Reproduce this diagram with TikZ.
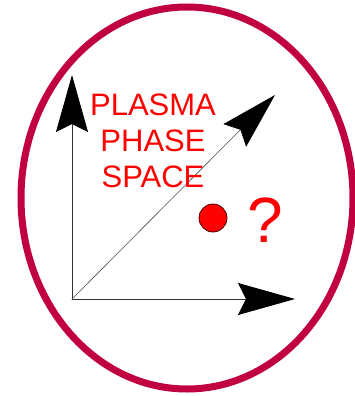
\documentclass[tikz,border=0pt]{standalone}
\usepackage{fontspec}
\setmainfont{Liberation Sans}
\usetikzlibrary{arrows.meta}
\definecolor{ringred}{RGB}{192,0,64}
\begin{document}
\begin{tikzpicture}[x=1pt, y=-1pt, line join=round, line cap=round,
	bigtip/.style={-{Stealth[length=57pt, width=32pt, inset=8pt, color=black, fill=black]}},
	axis/.style={bigtip, draw=black!80, line width=0.9pt},
	label/.style={text=red, inner sep=0pt, align=center}]
				\useasboundingbox (0,0) rectangle (355,396);
				%\draw[color=gray!50,dashed] (0,0) grid[step=20] (355,396);
				\def\ox{72} \def\oy{299}
				\draw[ringred, line width=7pt] (187,198) ellipse [x radius=166pt, y radius=191pt];
				\coordinate (O) at (\ox,\oy);
				\coordinate (xend) at (295,\oy);
				\coordinate (yend) at (\ox,75);
				\coordinate (zend) at (275,95);
				\draw[axis] (O)--(xend);
				\draw[axis] (O)--(yend);
				\draw[bigtip, draw=black!70, line width=0.6pt] (O)--(zend);
				\node[label, font=\fontsize{31}{36}\selectfont] (title) at (153,141) {PLASMA\\PHASE\\SPACE};
				\node[circle, fill=red, draw=black!70!red, line width=0.8pt, minimum size=28pt, inner sep=0pt] (dot) at (213,218) {};
				\node[label, font=\fontsize{64}{64}\selectfont] (qmark) at (265,220) {?};
			\end{tikzpicture}
\end{document}
